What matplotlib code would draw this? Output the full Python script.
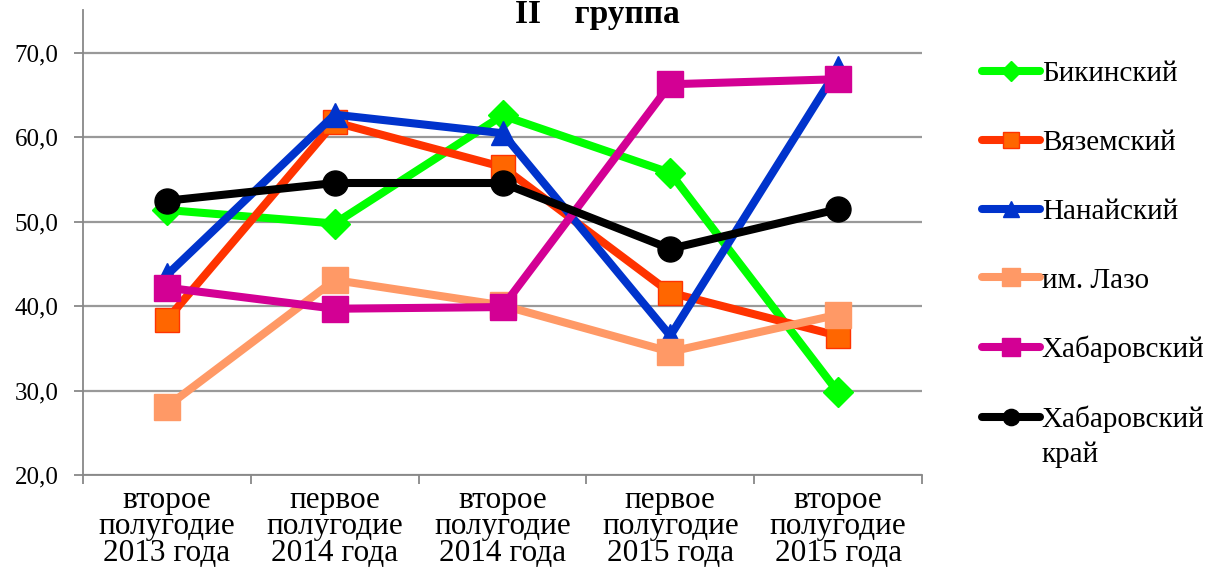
import matplotlib
matplotlib.use("Agg")
import matplotlib.pyplot as plt
from matplotlib.ticker import FixedLocator, FuncFormatter

plt.rcParams['font.family'] = ['Liberation Serif', 'DejaVu Serif']

# данные
periods = ['второе\nполугодие\n2013 года', 'первое\nполугодие\n2014 года',
           'второе\nполугодие\n2014 года', 'первое\nполугодие\n2015 года',
           'второе\nполугодие\n2015 года']
bikin = [51.4, 49.8, 62.6, 55.8, 29.8]
vyazem = [38.4, 61.8, 56.5, 41.6, 36.5]
nanai = [43.7, 62.7, 60.5, 36.5, 68.2]
lazo = [28.1, 43.1, 40.1, 34.6, 39.0]
khab = [42.2, 39.7, 39.9, 66.3, 66.9]
krai = [52.5, 54.6, 54.6, 46.8, 51.5]

series = [
    ('Бикинский', bikin, dict(color='#00FF00', marker='D', ms=15, mfc='#00FF00', mec='#00FF00')),
    ('Вяземский', vyazem, dict(color='#FF3300', marker='s', ms=17, mfc='#FF6600', mec='#FF3300')),
    ('Нанайский', nanai, dict(color='#0033CC', marker='^', ms=17, mfc='#0033CC', mec='#0033CC')),
    ('им. Лазо', lazo, dict(color='#FF9966', marker='s', ms=19, mfc='#FF9966', mec='#FF9966')),
    ('Хабаровский', khab, dict(color='#D30094', marker='s', ms=19, mfc='#D30094', mec='#D30094')),
    ('Хабаровский', krai, dict(color='#000000', marker='o', ms=18, mfc='#000000', mec='#000000')),
]

fig = plt.figure(figsize=(12.11, 5.70), dpi=100)
ax = fig.add_axes([83 / 1211, 1 - 475 / 570, 839 / 1211, 465 / 570])

x = list(range(len(periods)))
for name, vals, st in series:
    ax.plot(x, vals, lw=5.8, label=name, solid_capstyle='round', **st)

ax.set_xlim(-0.5, len(periods) - 0.5)
ax.set_ylim(20, 75.1)
ax.set_yticks([20, 30, 40, 50, 60, 70])
ax.yaxis.set_major_formatter(FuncFormatter(lambda v, p: f'{v:.1f}'.replace('.', ',')))
ax.set_xticks(x)
ax.set_xticklabels(periods, fontsize=22.5, linespacing=0.88)
ax.xaxis.set_minor_locator(FixedLocator([i - 0.5 for i in range(len(periods) + 1)]))
ax.tick_params(axis='x', which='major', length=0, pad=8)
ax.tick_params(axis='x', which='minor', length=6.5, color='#888888', width=1.3)
ax.tick_params(axis='y', length=6.5, color='#888888', width=1.3, labelsize=18, pad=11)
ax.grid(axis='y', color='#999999', lw=1.6)
ax.set_axisbelow(True)
for s in ['top', 'right']:
    ax.spines[s].set_visible(False)
for s in ['left', 'bottom']:
    ax.spines[s].set_color('#888888')
    ax.spines[s].set_linewidth(1.3)

fig.text(597 / 1211, 1 - 23 / 570, 'II    группа', ha='center', va='baseline',
         fontsize=24, fontweight='bold')

leg = fig.legend(loc='upper left', bbox_to_anchor=(982 / 1211, 1 - 61 / 570), frameon=False,
                 fontsize=21, handlelength=2.0, handletextpad=0.05, labelspacing=1.45,
                 borderpad=0, borderaxespad=0, markerscale=0.65)
# вторая строка подписи последней серии
fig.text(1042 / 1211, 1 - 462 / 570, 'край', ha='left', va='baseline', fontsize=21)

fig.savefig('out.png', dpi=100)
